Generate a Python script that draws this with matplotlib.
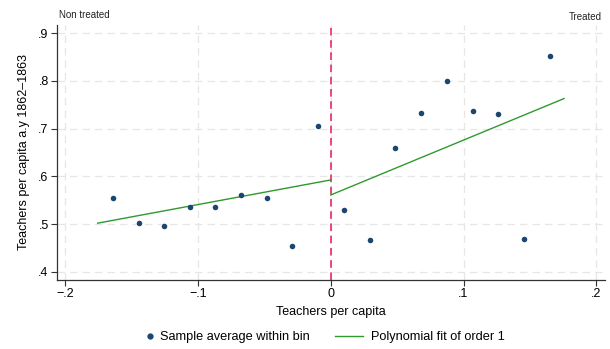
import matplotlib
matplotlib.use("Agg")
import matplotlib.pyplot as plt
from matplotlib.lines import Line2D
from matplotlib.ticker import FixedLocator, FuncFormatter

plt.rcParams['font.family'] = ['Liberation Sans', 'DejaVu Sans']

# Binned sample averages
bin_x = [-0.1635, -0.1446, -0.1253, -0.1060, -0.0867, -0.0674, -0.0481, -0.0288, -0.0092,
         0.0098, 0.0293, 0.0486, 0.0682, 0.0875, 0.1068, 0.1263, 0.1459, 0.1653]
bin_y = [0.555, 0.5025, 0.496, 0.535, 0.535, 0.561, 0.554, 0.454, 0.705,
         0.530, 0.467, 0.660, 0.732, 0.799, 0.737, 0.7305, 0.469, 0.852]

# Linear fit endpoints (each side of the cutoff)
fit_left_x = [-0.1754, 0.0]
fit_left_y = [0.502, 0.5925]
fit_right_x = [0.0, 0.1757]
fit_right_y = [0.561, 0.763]

xticks = [-0.2, -0.1, 0.0, 0.1, 0.2]
yticks = [0.4, 0.5, 0.6, 0.7, 0.8, 0.9]

navy = '#1a476f'
green = '#2e9a2e'
red = '#e8195a'

fig = plt.figure(figsize=(6.10, 3.49), dpi=100)
ax = fig.add_axes([57/610, 1-280/349, (605-57)/610, (280-25)/349])

ax.set_xlim(-0.206, 0.2065)
ax.set_ylim(0.383, 0.917)

def stata_fmt(v, pos):
    if abs(v) < 1e-9:
        return '0'
    s = ('%.1f' % v)
    s = s.replace('0.', '.')
    return s.replace('-', '\u2212')

ax.xaxis.set_major_locator(FixedLocator(xticks))
ax.yaxis.set_major_locator(FixedLocator(yticks))
ax.xaxis.set_major_formatter(FuncFormatter(stata_fmt))
ax.yaxis.set_major_formatter(FuncFormatter(stata_fmt))

ax.grid(True, color='#e6e6e6', linestyle=(0, (6, 4)), linewidth=0.9)
ax.set_axisbelow(True)
for s in ['top', 'right']:
    ax.spines[s].set_visible(False)
for s in ['left', 'bottom']:
    ax.spines[s].set_color('#333333')
    ax.spines[s].set_linewidth(0.9)
ax.tick_params(axis='both', labelsize=9, length=4, width=0.8, color='#333333', pad=2)

ax.axvline(0, color=red, linestyle=(0, (5, 3)), linewidth=1.1, zorder=2)
ax.plot(fit_left_x, fit_left_y, color=green, linewidth=1.0, zorder=3)
ax.plot(fit_right_x, fit_right_y, color=green, linewidth=1.0, zorder=3)
ax.scatter(bin_x, bin_y, s=16, color=navy, zorder=4, linewidths=0)

ax.set_xlabel('Teachers per capita', fontsize=9, labelpad=4)
ax.set_ylabel('Teachers per capita a.y 1862\u20131863', fontsize=9, labelpad=6)

fig.text(59/610, 1-15/349, 'Non treated', fontsize=7, ha='left', va='center', color='#222222')
fig.text(602/610, 1-17/349, 'Treated', fontsize=7, ha='right', va='center', color='#222222')

h1 = Line2D([], [], marker='o', linestyle='none', color=navy, markersize=3.5)
h2 = Line2D([], [], color=green, linewidth=1.0)
fig.legend([h1], ['Sample average within bin'],
           loc='center left', bbox_to_anchor=(146/610, 1-337/349), frameon=False,
           fontsize=9.2, handlelength=0.6, handletextpad=0.5, borderpad=0, borderaxespad=0)
fig.legend([h2], ['Polynomial fit of order 1'],
           loc='center left', bbox_to_anchor=(335/610, 1-337/349), frameon=False,
           fontsize=9.2, handlelength=2.2, handletextpad=0.6, borderpad=0, borderaxespad=0)

fig.savefig('out.png', dpi=100)
